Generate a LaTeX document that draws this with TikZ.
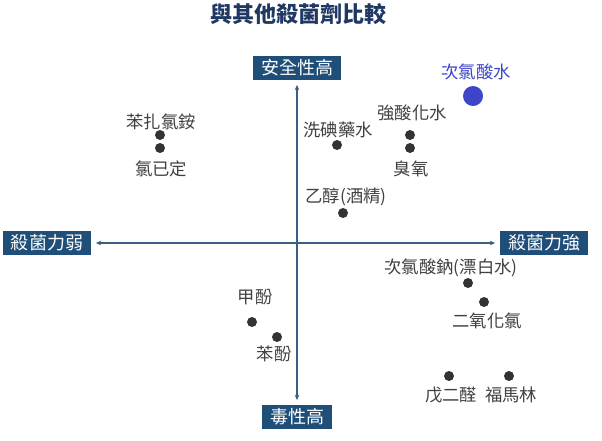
\documentclass[tikz,border=0pt]{standalone}
\usepackage{fontspec}
\setmainfont{Noto Sans CJK TC}
\usetikzlibrary{arrows.meta}
\definecolor{boxblue}{HTML}{1F4E79}
\definecolor{titleblue}{HTML}{203864}
\definecolor{axisblue}{HTML}{3A5F85}
\definecolor{txtgray}{HTML}{404040}
\definecolor{dotgray}{HTML}{333333}
\definecolor{hocl}{HTML}{3D45C8}
\begin{document}
\begin{tikzpicture}[x=0.75pt,y=-0.75pt,
 axbox/.style={fill=boxblue,text=white,font=\fontsize{13.5}{14}\selectfont,inner xsep=6pt,inner ysep=0pt,minimum height=18pt},
 lbl/.style={text=txtgray,font=\fontsize{13}{14}\selectfont,inner sep=0pt},
 dot/.style={circle,fill=dotgray,inner sep=0pt,minimum size=7.5pt},
 axisline/.style={draw=axisblue,line width=0.8pt,shorten <=3.5pt,shorten >=3.5pt,{Stealth[length=4pt,width=3.5pt]}-{Stealth[length=4pt,width=3.5pt]}}]
\useasboundingbox (0,0) rectangle (602,440);
\node[font=\fontsize{16.5}{18}\selectfont\bfseries,text=titleblue] (title) at (298,14) {與其他殺菌劑比較};
\node[axbox] (top) at (297,68) {安全性高};
\node[axbox] (bot) at (297,417) {毒性高};
\node[axbox] (left) at (47,243) {殺菌力弱};
\node[axbox] (right) at (544,243) {殺菌力強};
\draw[axisline] (left) -- (right);
\draw[axisline] (top) -- (bot);
% upper left
\node[lbl] (l1) at (161,122) {苯扎氯銨};
\node[dot] (d1) at (160,135) {};
\node[dot] (d2) at (160,148) {};
\node[lbl] (l2) at (161,169) {氯已定};
% upper right
\node[lbl] (l3) at (338,130) {洗碘藥水};
\node[dot] (d3) at (337,145) {};
\node[lbl] (l4) at (412,113) {強酸化水};
\node[dot] (d4) at (410,135) {};
\node[dot] (d5) at (410,148) {};
\node[lbl] (l5) at (411,169) {臭氧};
\node[lbl] (l6) at (346,197) {乙醇(酒精)};
\node[dot] (d6) at (343,213) {};
\node[text=hocl,font=\fontsize{13}{14}\selectfont,inner sep=0pt] (l7) at (476,72) {次氯酸水};
\node[circle,fill=hocl,inner sep=0pt,minimum size=15pt] (d7) at (473,96) {};
% lower right
\node[lbl] (l8) at (451,268) {次氯酸鈉(漂白水)};
\node[dot] (d8) at (468,283) {};
\node[dot] (d9) at (484,302) {};
\node[lbl] (l9) at (487,321) {二氧化氯};
\node[dot] (d10) at (449,376) {};
\node[dot] (d11) at (509,376) {};
\node[lbl] (l10) at (451,395) {戊二醛};
\node[lbl] (l11) at (511,395) {福馬林};
% lower left
\node[lbl] (l12) at (255,297) {甲酚};
\node[dot] (d12) at (252,322) {};
\node[dot] (d13) at (277,337) {};
\node[lbl] (l13) at (274,354) {苯酚};
\end{tikzpicture}
\end{document}
